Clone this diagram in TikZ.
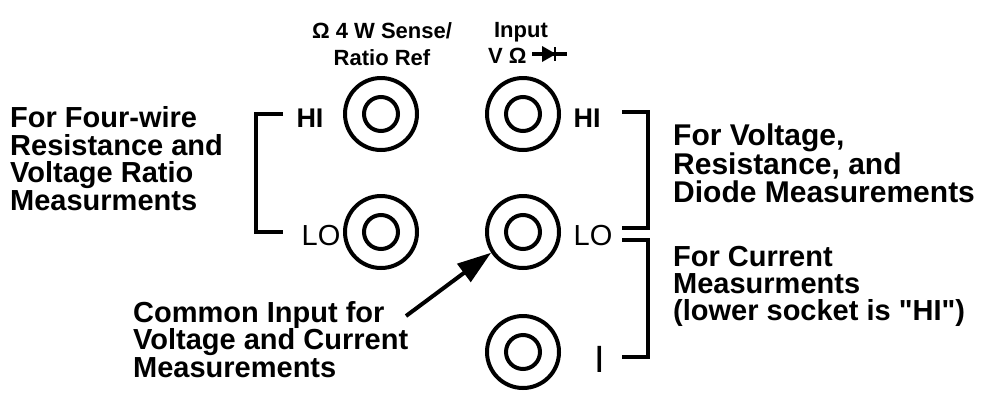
\documentclass[tikz,border=0pt]{standalone}
\usepackage{fontspec}
\setmainfont{Liberation Sans}[Ligatures=TeXOff]
\usetikzlibrary{arrows.meta}
\tikzset{
    socket/.style={circle, draw, line width=4pt, minimum size=72pt, inner sep=0pt,
        path picture={\draw [line width=4pt] (path picture bounding box.center) circle [radius=17pt];}},
    txt/.style={font=\fontsize{29}{27.5}\selectfont\bfseries, align=left, anchor=base west, inner sep=0pt},
    head/.style={font=\fontsize{22}{27}\selectfont\bfseries, align=center, anchor=base, inner sep=0pt},
    lbl/.style={font=\fontsize{29}{29}\selectfont, anchor=base, inner sep=0pt},
    bracket/.style={line width=4.5pt},
    pointer/.style={line width=4pt, -{Triangle[length=34pt,width=22pt]}}
}
\begin{document}
\begin{tikzpicture}[x=1pt,y=-1pt]
    \useasboundingbox (0,0) rectangle (981,394);
    % sockets
    \node [socket] (t1) at (381,114) {};\node [socket] (t2) at (523,114) {};
    \node [socket] (m1) at (381,232) {};\node [socket] (m2) at (523,232) {};
    \node [socket] (b2) at (523,352) {};
    % heads
    \node [head] (sense) at (382,65) {\char"03A9\ 4 W Sense/\\Ratio Ref};
    \node [head] (input) at (521,37) {Input};
    \node [head, anchor=base west] (vo) at (488,63) {V \char"03A9};
    \draw [line width=3.5pt] (532,54) -- (567,54);
    \fill (542,46) -- (556,54) -- (542,62) -- cycle;\draw [line width=2.5pt] (555,47) -- (555,61);
    % lecters
    \node [lbl, font=\fontsize{27}{27}\selectfont\bfseries] (hil) at (310,127) {HI};
    \node [lbl, font=\fontsize{27}{27}\selectfont\bfseries] (hir) at (587,127) {HI};
    \node [lbl] (lol) at (321,245) {LO};\node [lbl] (lor) at (593,245) {LO};
    \node [lbl, font=\fontsize{38}{38}\selectfont] (ii) at (600,372) {I};
    % brackets
    \draw [bracket] (283,114) -- (256,114) -- (256,232) -- (283,232);
    \draw [bracket] (622,112) -- (648,112) -- (648,228) -- (622,228);
    \draw [bracket] (622,240) -- (648,240) -- (648,357) -- (622,357);
    % texts (base = last line)
    \node [txt] (fourw) at (10,210) {For Four-wire\\Resistance and\\Voltage Ratio\\Measurments};
    \node [txt, font=\fontsize{30}{27.5}\selectfont\bfseries] (volt) at (673,202) {For Voltage,\\Resistance, and\\Diode Measurements};
    \node [txt, font=\fontsize{29}{27}\selectfont\bfseries] (curr) at (673,320) {For Current\\Measurments\\(lower socket is "HI")};
    \node [txt, font=\fontsize{29}{27.5}\selectfont\bfseries] (cin) at (133,377) {Common Input for\\Voltage and Current\\Measurements};
    % arrow
    \coordinate (tail) at (406,316);
    \draw [pointer] (tail) -- (m2.213);
\end{tikzpicture}
\end{document}
